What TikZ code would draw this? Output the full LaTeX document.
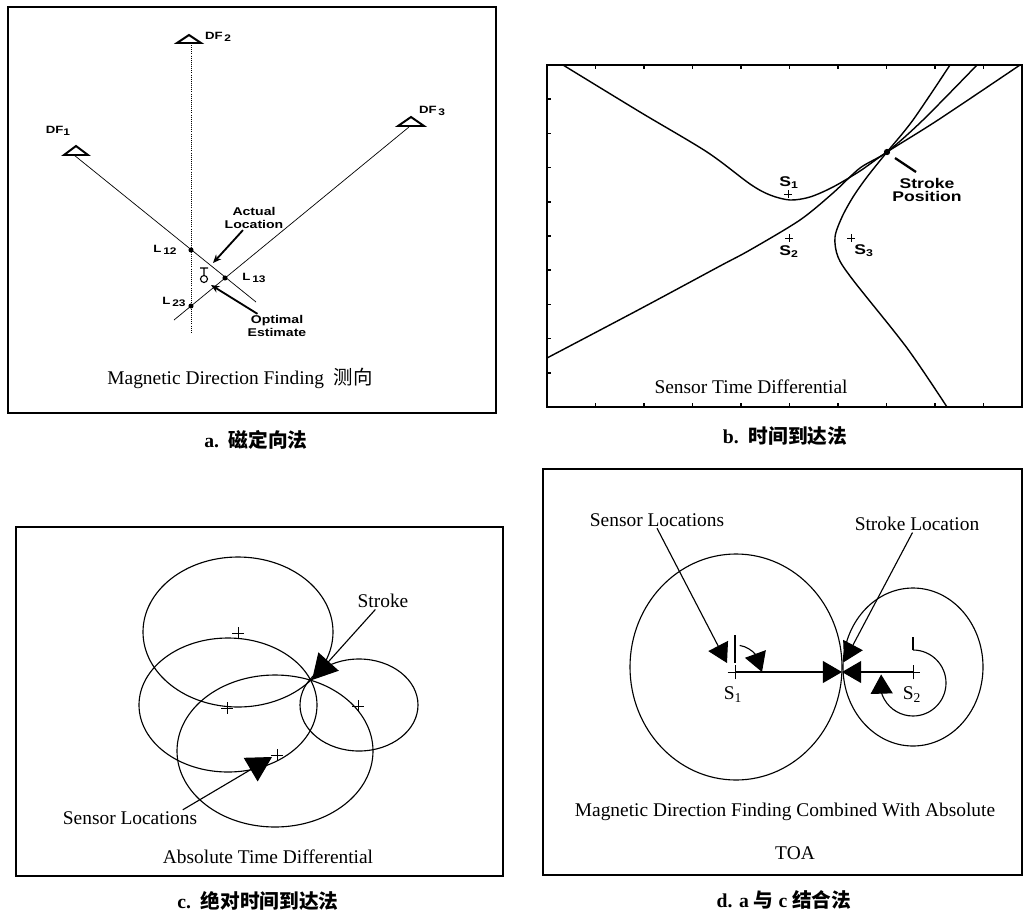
\documentclass[tikz,border=0pt]{standalone}
\usepackage{fontspec}
\setmainfont{Liberation Serif}
\newfontfamily\cjk{Noto Sans CJK SC}
\newfontfamily\blk[FakeStretch=1.25]{Liberation Sans}
\newcommand\lowsub[1]{\raisebox{-0.45ex}{\fontsize{6.8}{7}\selectfont#1}}
\usetikzlibrary{arrows.meta,bending,shapes.misc}

\begin{document}
\begin{tikzpicture}[x=0.025cm,y=-0.025cm,
  frame/.style={line width=1.1pt},
  trace/.style={line width=1pt,line join=round},
  ring/.style={line width=0.8pt},
  sight/.style={line width=0.5pt},
  dfmark/.style={line width=1.4pt},
  hit/.style={circle,fill,inner sep=0pt,minimum size=3.6pt},
  sensor/.style={draw,cross out,rotate=45,inner sep=0pt,minimum size=5pt,line width=0.6pt},
  markl/.style={font=\blk\bfseries\fontsize{7.5}{8}\selectfont,inner sep=0.5pt},
  note/.style={font=\blk\bfseries\fontsize{8}{9}\selectfont,align=center,inner sep=1pt},
  slab/.style={font=\blk\bfseries\fontsize{10}{10}\selectfont,inner sep=0.5pt},
  maintxt/.style={font=\fontsize{13.8}{16}\selectfont,inner sep=1pt},
  captxt/.style={font=\bfseries\fontsize{14}{16}\selectfont,inner sep=1pt},
  pointer/.style={line width=1.3pt,-{Stealth[length=6pt,width=5pt]}},
  bigtip/.style={line width=0.8pt,-{Triangle[length=0.62cm,width=0.68cm]}},
  midtip/.style={line width=0.8pt,-{Triangle[length=0.48cm,width=0.55cm]}}]
\useasboundingbox (0,0) rectangle (1025,914);

% a
\draw[frame] (8,7) rectangle (496,413);
\coordinate (df1) at (76,146);
\coordinate (df2) at (189,35);
\coordinate (df3) at (411,117);
\draw[dfmark] (df1) -- ++(-12,9) -- ++(24,0) -- cycle;
\draw[dfmark] (df2) -- ++(-12,8) -- ++(24,0) -- cycle;
\draw[dfmark] (df3) -- ++(-13,9) -- ++(26,0) -- cycle;
\node[markl] (df1lab) at (58,131) {DF\lowsub{1}};
\node[markl] (df2lab) at (218,37) {DF\,\lowsub{2}};
\node[markl] (df3lab) at (432,111) {DF\,\lowsub{3}};
\coordinate (b1) at (74,155); \coordinate (e1) at (256,302);
\coordinate (b2) at (191,45); \coordinate (e2) at (191,333);
\coordinate (b3) at (409,127); \coordinate (e3) at (174,320);
\draw[sight] (b1) -- (e1);
\draw[sight,densely dotted] (b2) -- (e2);
\draw[sight] (b3) -- (e3);
\node[hit] (l12) at (191,250) {};
\node[hit] (l13) at (225,278) {};
\node[hit] (l23) at (191,306) {};
\node[markl] (l12lab) at (165,250) {L\,\lowsub{12}};
\node[markl] (l13lab) at (254,278) {L\,\lowsub{13}};
\node[markl] (l23lab) at (174,302) {L\,\lowsub{23}};
\draw[line width=0.8pt] (204,279) circle (3.5) (200,268) -- (208,268) (204,268) -- (204,275);
\node[note] (actlab) at (254,218) {Actual\\Location};
\coordinate (actual) at (213,263);
\draw[pointer] (actlab) -- (actual);
\node[note] (optlab) at (277,326) {Optimal\\Estimate};
\coordinate (optimum) at (211,285);
\draw[pointer] (optlab) -- (optimum);
\node[maintxt] (atitle) at (240,378) {Magnetic Direction Finding\enspace{\cjk 测向}};
\node[captxt] (acap) at (256,440) {a.\enspace{\cjk 磁定向法}};

% b
\draw[frame] (547,65) rectangle (1022,407);
\foreach \k in {1,...,9}{
  \draw[frame] ({547+48.5*\k},407) -- ++(0,-4);
  \draw[frame] ({547+48.5*\k},65) -- ++(0,4);
  \draw[frame] (547,{65+34.2*\k}) -- ++(4,0);
}
\draw[trace] plot[smooth] coordinates {(563,65) (640,112) (707,152) (750,184) (770,195) (790,200)
  (810,197) (833,187) (860,171) (887,152) (938,120) (1020,65)};
\draw[trace] plot[smooth] coordinates {(547,358) (640,309) (720,266) (750,250) (800,220) (833,193)
  (860,168) (887,152) (923,120) (977,65)};
\draw[trace] plot[smooth] coordinates {(947,407) (907,348) (853,280) (838,257) (835,237) (842,217)
  (853,197) (867,177) (887,152) (913,120) (950,65)};
\node[hit,minimum size=4.5pt] (bstroke) at (887,152) {};
\node[sensor,minimum size=3pt] (s1) at (788,194) {};
\node[sensor,minimum size=3pt] (s2) at (789,238) {};
\node[sensor,minimum size=3pt] (s3) at (851,238) {};
\node[slab] (s1lab) at (789,183) {S\textsubscript{1}};
\node[slab] (s2lab) at (789,252) {S\textsubscript{2}};
\node[slab] (s3lab) at (864,251) {S\textsubscript{3}};
\node[note,font=\blk\bfseries\fontsize{10}{9.5}\selectfont] (bstrokelab) at (927,190) {Stroke\\Position};
\coordinate (pa) at (895,158); \coordinate (pb) at (916,172);
\draw[line width=1.6pt] (pa) -- (pb);
\node[maintxt] (btitle) at (751,387) {Sensor Time Differential};
\node[captxt] (bcap) at (785,436) {b.\enspace{\cjk 时间到达法}};

% c
\draw[frame] (16,527) rectangle (503,876);
\node[sensor,minimum size=5pt] (c1) at (238,633) {};
\node[sensor,minimum size=5pt] (c2) at (227,708) {};
\node[sensor,minimum size=5pt] (c3) at (277,755) {};
\node[sensor,minimum size=5pt] (c4) at (358,706) {};
\draw[ring] (238,632) ellipse [x radius=95,y radius=75];
\draw[ring] (228,705) ellipse [x radius=89,y radius=67];
\draw[ring] (275,751) ellipse [x radius=98,y radius=76];
\draw[ring] (359,705) ellipse [x radius=59,y radius=46];
\coordinate (cstroke) at (312,680);
\coordinate (csensor) at (272,757);
\node[maintxt] (cstrokelab) at (383,601) {Stroke};
\draw[bigtip] (cstrokelab) -- (cstroke);
\node[maintxt] (csenslab) at (130,818) {Sensor Locations};
\draw[bigtip] ([xshift=-0.4cm]csenslab.north east) -- (csensor);
\node[maintxt] (ctitle) at (268,857) {Absolute Time Differential};
\node[captxt] (ccap) at (258,901) {c.\enspace{\cjk 绝对时间到达法}};

% d
\draw[frame] (543,469) rectangle (1022,875);
\draw[ring] (736,667) ellipse [x radius=106,y radius=113];
\draw[ring] (913,667) ellipse [x radius=70,y radius=79];
\node[sensor,minimum size=6.8pt] (ds1) at (735,672) {};
\node[sensor,minimum size=6.8pt] (ds2) at (913,672) {};
\coordinate (dstroke) at (842,672);
\coordinate (n1a) at (735,635); \coordinate (n1b) at (735,663);
\coordinate (n2a) at (913,637); \coordinate (n2b) at (913,650);
\draw[ring] (n1a) -- (n1b);
\draw[ring] (n2a) -- (n2b);
\draw[midtip] (ds1.center) -- (dstroke);
\draw[midtip] (ds2.center) -- (dstroke);
\draw[midtip] (ds1.center) ++(-80:27) arc[start angle=-80,end angle=0,radius=27];
\coordinate (ds2arc) at (913,683);
\draw[midtip] (ds2arc) ++(-90:33) arc[start angle=-90,end angle=195,radius=33];
\node[maintxt] (ds1lab) at (733,695) {S\textsubscript{1}};
\node[maintxt] (ds2lab) at (912,695) {S\textsubscript{2}};
\node[maintxt] (dsenslab) at (657,520) {Sensor Locations};
\coordinate (dsensor) at (727,663);
\draw[midtip] (dsenslab.south) -- (dsensor);
\node[maintxt] (dstrokelab) at (917,524) {Stroke Location};
\coordinate (dtip) at (844,662);
\draw[midtip] (dstrokelab) -- (dtip);
\node[maintxt] (dtitle) at (785,812) {Magnetic Direction Finding Combined With Absolute};
\node[maintxt] (dtitle2) at (795,853) {TOA};
\node[captxt] (dcap) at (784,900) {d. a {\cjk 与} c {\cjk 结合法}};
\end{tikzpicture}
\end{document}
